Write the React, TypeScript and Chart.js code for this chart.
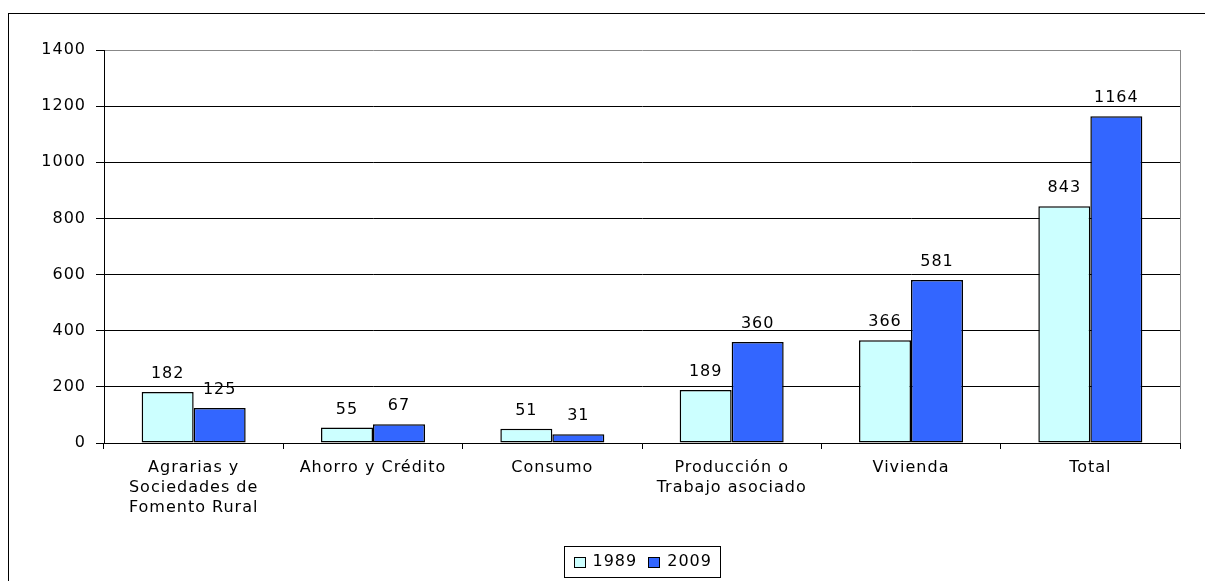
import React, { useEffect, useRef } from "react";
import { Chart, registerables } from "chart.js";

Chart.register(...registerables);

const categories: (string | string[])[] = [
  ["Agrarias y", "Sociedades de", "Fomento Rural"],
  "Ahorro y Crédito",
  "Consumo",
  ["Producción o", "Trabajo asociado"],
  "Vivienda",
  "Total",
];
const seriesLabels = ["1989", "2009"];
const values1989 = [182, 55, 51, 189, 366, 843];
const values2009 = [125, 67, 31, 360, 581, 1164];
const colors = ["#CCFFFF", "#3366FF"];
const yMin = 0;
const yMax = 1400;
const yStep = 200;

const FONT = "'DejaVu Sans', 'Liberation Sans', Arial, sans-serif";

const spacingPlugin = {
  id: "spacing",
  beforeUpdate(chart: any) {
    chart.ctx.letterSpacing = "1px";
  },
  beforeDraw(chart: any) {
    chart.ctx.letterSpacing = "1px";
  },
};

const framePlugin = {
  id: "frame",
  beforeDraw(chart: any) {
    const ctx = chart.ctx;
    ctx.save();
    ctx.strokeStyle = "#000";
    ctx.lineWidth = 1;
    ctx.strokeRect(8.5, 13.5, 1400, 900);
    ctx.restore();
  },
  afterDraw(chart: any) {
    const ctx = chart.ctx;
    const a = chart.chartArea;
    ctx.save();
    ctx.strokeStyle = "#888";
    ctx.lineWidth = 1;
    ctx.beginPath();
    ctx.moveTo(Math.round(a.right) + 0.5, a.top);
    ctx.lineTo(Math.round(a.right) + 0.5, a.bottom);
    ctx.stroke();
    ctx.restore();
  },
};

const valueLabelPlugin = {
  id: "valueLabels",
  afterDatasetsDraw(chart: any) {
    const ctx = chart.ctx;
    ctx.save();
    ctx.font = `16px ${FONT}`;
    ctx.fillStyle = "#000";
    ctx.textAlign = "center";
    ctx.textBaseline = "alphabetic";
    chart.data.datasets.forEach((ds: any, i: number) => {
      const meta = chart.getDatasetMeta(i);
      meta.data.forEach((el: any, j: number) => {
        ctx.fillText(String(ds.data[j]), el.x, el.y - 14);
      });
    });
    ctx.restore();
  },
};

const legendPlugin = {
  id: "boxLegend",
  afterDraw(chart: any) {
    const ctx = chart.ctx;
    ctx.save();
    ctx.font = `16px ${FONT}`;
    ctx.textBaseline = "middle";
    ctx.textAlign = "left";
    const sq = 12;
    const gapText = 7;
    const gapItem = 11;
    const pad = 9;
    const items = chart.data.datasets.map((ds: any) => ({
      label: ds.label,
      color: ds.backgroundColor,
      w: ctx.measureText(ds.label).width,
    }));
    let contentW = 0;
    items.forEach((it: any, i: number) => {
      contentW += sq + gapText + it.w + (i < items.length - 1 ? gapItem : 0);
    });
    const boxW = Math.round(contentW + pad * 2);
    const boxH = 31;
    const cx = (chart.chartArea.left + chart.chartArea.right) / 2;
    const left = Math.round(cx - boxW / 2) + 0.5;
    const top = 546.5;
    ctx.strokeStyle = "#000";
    ctx.lineWidth = 1;
    ctx.strokeRect(left, top, boxW, boxH);
    const cy = top + boxH / 2;
    let x = left + pad;
    items.forEach((it: any) => {
      ctx.fillStyle = it.color;
      ctx.fillRect(Math.round(x), Math.round(cy - 5), sq, 10);
      ctx.strokeStyle = "#000";
      ctx.strokeRect(Math.round(x) + 0.5, Math.round(cy - 5) + 0.5, sq - 1, 10);
      x += sq + gapText;
      ctx.fillStyle = "#000";
      ctx.fillText(it.label, x, cy);
      x += it.w + gapItem;
    });
    ctx.restore();
  },
};

export default function App() {
  const ref = useRef<HTMLCanvasElement | null>(null);

  useEffect(() => {
    if (!ref.current) return;
    Chart.defaults.font.family = FONT;
    Chart.defaults.font.size = 16;
    Chart.defaults.color = "#000";
    const chart = new Chart(ref.current, {
      type: "bar",
      data: {
        labels: categories,
        datasets: [
          {
            label: seriesLabels[0],
            data: values1989,
            backgroundColor: colors[0],
            borderColor: "#000",
            borderWidth: 1.5,
            borderSkipped: false,
            categoryPercentage: 0.58,
            barPercentage: 1,
          },
          {
            label: seriesLabels[1],
            data: values2009,
            backgroundColor: colors[1],
            borderColor: "#000",
            borderWidth: 1.5,
            borderSkipped: false,
            categoryPercentage: 0.58,
            barPercentage: 1,
          },
        ],
      },
      options: {
        responsive: false,
        animation: false,
        layout: { padding: { top: 50, left: 0, right: 25, bottom: 0 } },
        plugins: {
          legend: { display: false },
          tooltip: { enabled: false },
        },
        scales: {
          x: {
            afterFit(scale: any) {
              scale.height = 138;
            },
            grid: {
              display: true,
              drawOnChartArea: false,
              tickLength: 6,
              color: "#000",
              offset: true,
            },
            border: { color: "#000", width: 1 },
            ticks: {
              maxRotation: 0,
              autoSkip: false,
              padding: 9,
              font: { size: 16, family: FONT, lineHeight: 1.25 },
              color: "#000",
            },
          },
          y: {
            min: yMin,
            max: yMax,
            afterFit(scale: any) {
              scale.width = 104;
            },
            grid: {
              color: (c: any) => (c.tick && c.tick.value === yMax ? "#888" : "#000"),
              tickColor: "#000",
              tickLength: 8,
            },
            border: { color: "#000", width: 1 },
            ticks: {
              stepSize: yStep,
              padding: 10,
              font: { size: 16, family: FONT },
              color: "#000",
              callback: (v: any) => String(v),
            },
          },
        },
      },
      plugins: [spacingPlugin, framePlugin, valueLabelPlugin, legendPlugin],
    } as any);
    return () => chart.destroy();
  }, []);

  return (
    <div style={{ position: "fixed", left: 0, top: 0, width: 1205, height: 581, background: "#fff" }}>
      <canvas ref={ref} width={1205} height={581} style={{ width: 1205, height: 581, display: "block" }} />
    </div>
  );
}
